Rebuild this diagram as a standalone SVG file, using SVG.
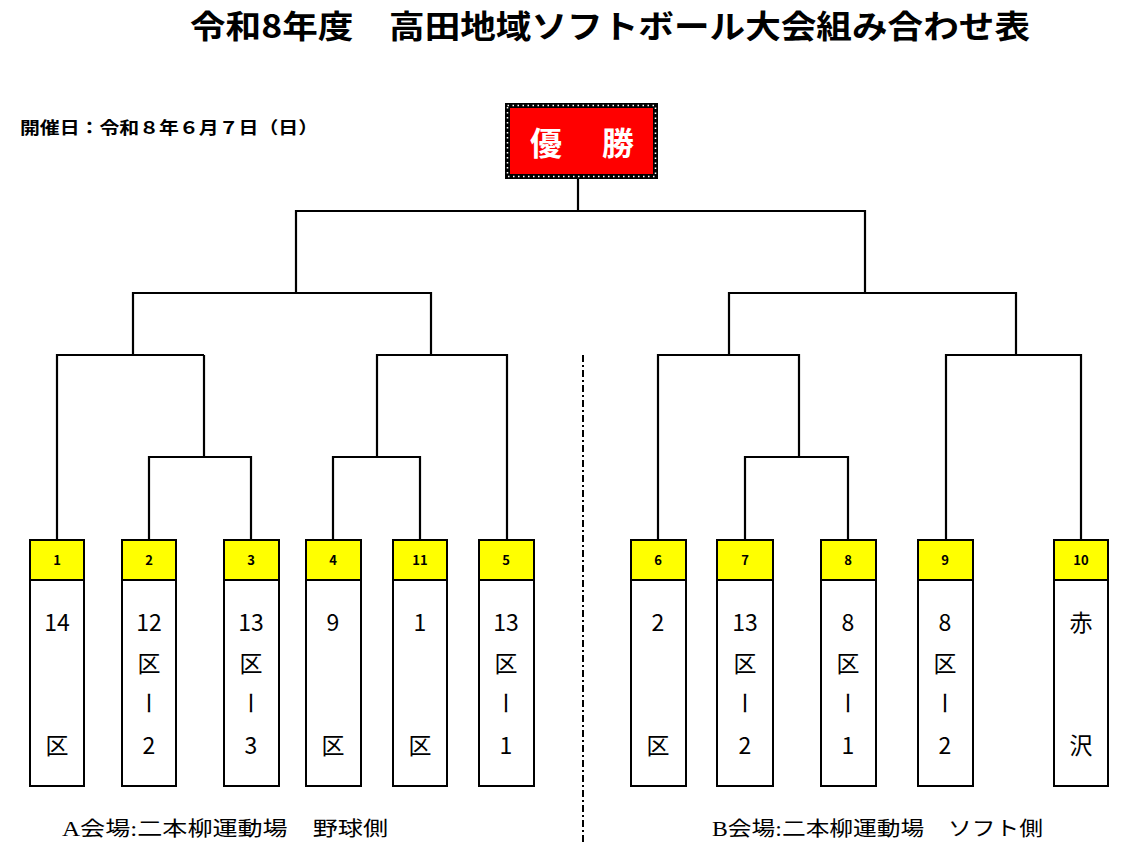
<svg xmlns="http://www.w3.org/2000/svg" width="1142" height="860" viewBox="0 0 1142 860">
<style>
.title{font-family:"Noto Sans CJK JP",sans-serif;font-weight:bold;font-size:32px;fill:#000}
.date{font-family:"Noto Sans CJK JP",sans-serif;font-weight:bold;font-size:17px;fill:#000}
.win{font-family:"Noto Sans CJK JP",sans-serif;font-weight:bold;font-size:32px;fill:#fff;text-anchor:middle}
.box{fill:#fff;stroke:#000;stroke-width:2}
.hdr{fill:#ffff00;stroke:#000;stroke-width:2}
.num{font-family:"Noto Sans CJK JP",sans-serif;font-weight:bold;font-size:13px;fill:#000;text-anchor:middle}
.name{font-family:"Noto Sans CJK JP",sans-serif;font-size:23px;fill:#000;text-anchor:middle}
.venue{font-family:"Liberation Serif","Noto Sans CJK JP",serif;font-size:20px;fill:#000}
.ln{fill:none;stroke:#000;stroke-width:2.2}
</style>
<rect width="1142" height="860" fill="#fff"/>
<text class="title" x="190" y="38" textLength="840" lengthAdjust="spacingAndGlyphs">令和8年度　高田地域ソフトボール大会組み合わせ表</text>
<text class="date" x="20" y="134" textLength="298" lengthAdjust="spacingAndGlyphs">開催日：令和８年６月７日（日）</text>
<g id="champion">
<rect x="507.5" y="105.5" width="148" height="71" fill="#ff0000" stroke="#000" stroke-width="5"/>
<rect x="507.5" y="105.5" width="148" height="71" fill="none" stroke="#fff" stroke-width="1.5" stroke-dasharray="1.5 3.5"/>
<text class="win" x="546" y="155">優</text>
<text class="win" x="618" y="155">勝</text>
</g>
<g id="connectors">
<path class="ln" d="M57 540V355H204"/>
<path class="ln" d="M149 540V457H251V540"/>
<path class="ln" d="M204 355V457"/>
<path class="ln" d="M333 540V457H420V540"/>
<path class="ln" d="M377 457V355H507V540"/>
<path class="ln" d="M133 355V293H431V355"/>
<path class="ln" d="M296 293V211H865V293"/>
<path class="ln" d="M578 211V179"/>
<path class="ln" d="M658 540V355H799V457"/>
<path class="ln" d="M745 540V457H848V540"/>
<path class="ln" d="M729 355V293H1016V355"/>
<path class="ln" d="M946 540V355H1081V540"/>
</g>
<line id="divider" x1="583" y1="355" x2="583" y2="842" stroke="#000" stroke-width="2" stroke-dasharray="7 3 2 3"/>
<g id="team1"><rect class="box" x="30" y="540" width="54" height="246"/><rect class="hdr" x="30" y="540" width="54" height="40"/><text class="num" x="57" y="565">1</text><text class="name" x="57" y="631">14</text><text class="name" x="57" y="754">区</text></g>
<g id="team2"><rect class="box" x="122" y="540" width="54" height="246"/><rect class="hdr" x="122" y="540" width="54" height="40"/><text class="num" x="149" y="565">2</text><text class="name" x="149" y="631">12</text><text class="name" x="149" y="672">区</text><text class="name" x="149" y="712" transform="rotate(90 149 703)">ー</text><text class="name" x="149" y="754">2</text></g>
<g id="team3"><rect class="box" x="224" y="540" width="55" height="246"/><rect class="hdr" x="224" y="540" width="55" height="40"/><text class="num" x="251" y="565">3</text><text class="name" x="251" y="631">13</text><text class="name" x="251" y="672">区</text><text class="name" x="251" y="712" transform="rotate(90 251 703)">ー</text><text class="name" x="251" y="754">3</text></g>
<g id="team4"><rect class="box" x="306" y="540" width="55" height="246"/><rect class="hdr" x="306" y="540" width="55" height="40"/><text class="num" x="333" y="565">4</text><text class="name" x="333" y="631">9</text><text class="name" x="333" y="754">区</text></g>
<g id="team11"><rect class="box" x="393" y="540" width="54" height="246"/><rect class="hdr" x="393" y="540" width="54" height="40"/><text class="num" x="420" y="565">11</text><text class="name" x="420" y="631">1</text><text class="name" x="420" y="754">区</text></g>
<g id="team5"><rect class="box" x="479" y="540" width="55" height="246"/><rect class="hdr" x="479" y="540" width="55" height="40"/><text class="num" x="506" y="565">5</text><text class="name" x="506" y="631">13</text><text class="name" x="506" y="672">区</text><text class="name" x="506" y="712" transform="rotate(90 506 703)">ー</text><text class="name" x="506" y="754">1</text></g>
<g id="team6"><rect class="box" x="631" y="540" width="55" height="246"/><rect class="hdr" x="631" y="540" width="55" height="40"/><text class="num" x="658" y="565">6</text><text class="name" x="658" y="631">2</text><text class="name" x="658" y="754">区</text></g>
<g id="team7"><rect class="box" x="717" y="540" width="56" height="246"/><rect class="hdr" x="717" y="540" width="56" height="40"/><text class="num" x="745" y="565">7</text><text class="name" x="745" y="631">13</text><text class="name" x="745" y="672">区</text><text class="name" x="745" y="712" transform="rotate(90 745 703)">ー</text><text class="name" x="745" y="754">2</text></g>
<g id="team8"><rect class="box" x="821" y="540" width="55" height="246"/><rect class="hdr" x="821" y="540" width="55" height="40"/><text class="num" x="848" y="565">8</text><text class="name" x="848" y="631">8</text><text class="name" x="848" y="672">区</text><text class="name" x="848" y="712" transform="rotate(90 848 703)">ー</text><text class="name" x="848" y="754">1</text></g>
<g id="team9"><rect class="box" x="918" y="540" width="55" height="246"/><rect class="hdr" x="918" y="540" width="55" height="40"/><text class="num" x="945" y="565">9</text><text class="name" x="945" y="631">8</text><text class="name" x="945" y="672">区</text><text class="name" x="945" y="712" transform="rotate(90 945 703)">ー</text><text class="name" x="945" y="754">2</text></g>
<g id="team10"><rect class="box" x="1054" y="540" width="54" height="246"/><rect class="hdr" x="1054" y="540" width="54" height="40"/><text class="num" x="1081" y="565">10</text><text class="name" x="1081" y="631">赤</text><text class="name" x="1081" y="754">沢</text></g>
<text class="venue" x="62" y="836" textLength="326" lengthAdjust="spacingAndGlyphs">A会場:二本柳運動場　野球側</text>
<text class="venue" x="712" y="836" textLength="331" lengthAdjust="spacingAndGlyphs">B会場:二本柳運動場　ソフト側</text>
</svg>
